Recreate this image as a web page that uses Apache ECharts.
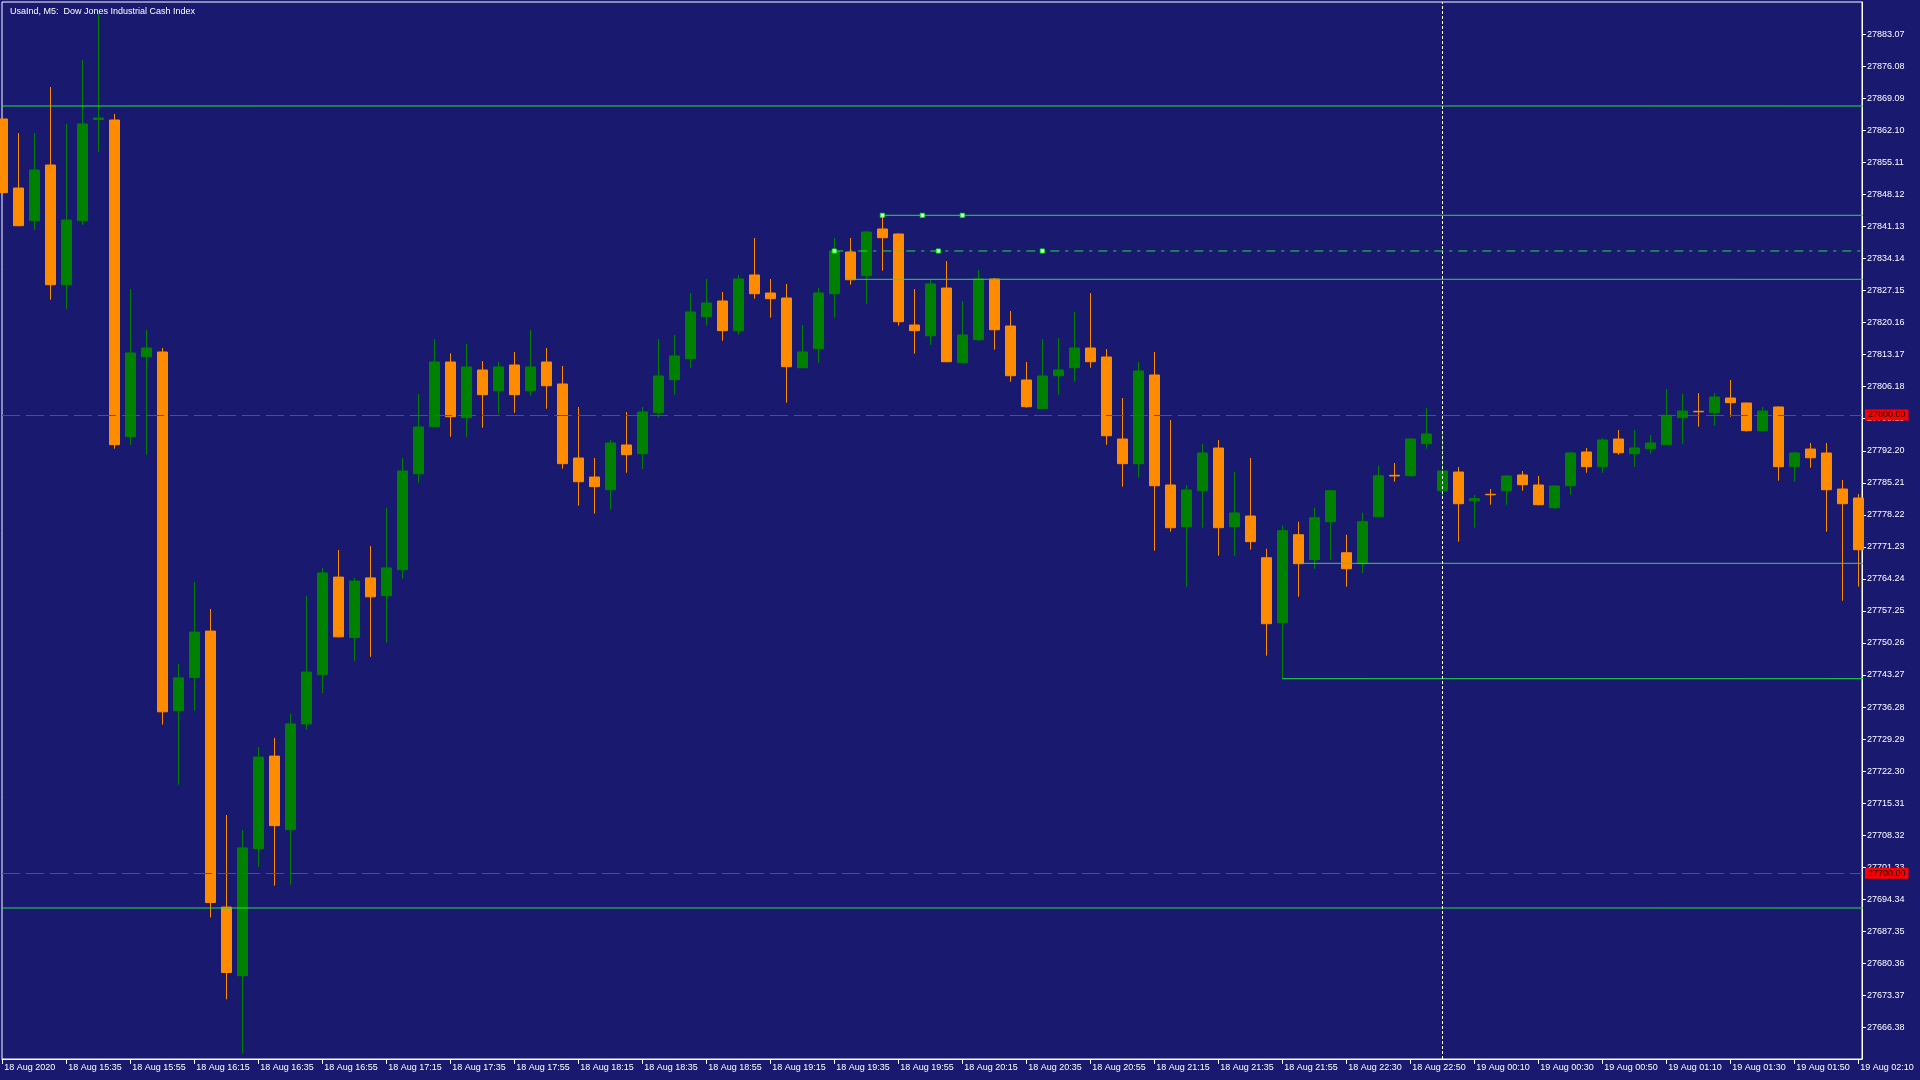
<!DOCTYPE html>
<html><head><meta charset="utf-8">
<script src="https://cdn.jsdelivr.net/npm/echarts@6/dist/echarts.min.js"></script>
<style>html,body{margin:0;padding:0;background:#191970;overflow:hidden}#chart{width:1920px;height:1080px}</style>
</head><body><div id="chart"></div>
<script>
// ---- data ----
const chartTitle = 'UsaInd, M5:  Dow Jones Industrial Cash Index';
const opens = [27864.59,27849.53,27842.40,27854.55,27828.43,27842.40,27864.50,27864.37,27795.27,27812.72,
27813.75,27735.48,27742.73,27752.85,27692.63,27677.66,27705.39,27725.57,27709.54,27732.60,
27743.36,27764.63,27751.45,27764.46,27760.57,27766.25,27787.19,27797.45,27811.57,27799.41,
27809.82,27805.30,27810.91,27805.30,27811.57,27806.77,27790.62,27786.47,27783.70,27793.46,
27791.56,27800.50,27807.70,27812.29,27821.45,27824.88,27818.40,27830.55,27826.62,27825.53,
27810.32,27814.47,27826.47,27835.57,27830.40,27840.59,27839.50,27819.64,27817.30,27827.71,
27811.41,27816.43,27829.68,27819.42,27807.64,27801.38,27808.58,27810.32,27814.62,27812.66,
27794.76,27789.38,27808.73,27784.73,27775.63,27783.48,27792.80,27775.63,27777.96,27768.86,
27754.68,27773.88,27768.43,27776.72,27769.95,27767.56,27777.81,27786.84,27786.76,27793.74,
27783.48,27787.56,27781.30,27782.70,27783.48,27786.91,27784.73,27779.77,27784.57,27791.93,
27788.72,27794.76,27791.56,27792.65,27793.52,27799.41,27800.81,27800.50,27803.71,27802.62,
27796.58,27801.75,27788.72,27792.58,27791.71,27783.85,27781.89];
const closes = [27848.51,27841.31,27853.46,27828.43,27842.55,27863.50,27864.80,27793.52,27813.53,27814.62,
27735.24,27742.64,27752.63,27693.63,27678.36,27705.54,27725.35,27710.39,27732.60,27743.90,
27765.55,27751.60,27763.76,27760.33,27766.64,27787.78,27797.38,27811.57,27799.63,27810.48,
27804.43,27810.48,27804.43,27810.48,27806.39,27789.38,27785.45,27784.36,27793.89,27791.34,
27800.66,27808.51,27812.88,27822.48,27824.44,27818.40,27829.68,27826.47,27825.38,27810.54,
27813.75,27826.62,27835.79,27829.52,27839.93,27838.69,27820.36,27818.40,27828.59,27811.63,
27817.46,27829.68,27818.61,27808.58,27801.81,27808.51,27809.82,27814.62,27811.63,27795.48,
27789.38,27809.60,27784.57,27775.41,27783.64,27791.71,27775.41,27778.62,27772.36,27754.46,
27774.76,27767.56,27777.59,27783.48,27766.46,27776.72,27786.76,27786.70,27794.76,27795.86,
27787.78,27780.65,27781.74,27782.60,27786.69,27784.79,27780.43,27784.51,27791.71,27788.72,
27794.55,27791.77,27792.80,27793.89,27799.94,27800.87,27800.70,27803.93,27802.69,27796.58,
27800.87,27788.72,27791.71,27790.68,27783.70,27780.65,27770.61];
const lows = [27848.30,27841.20,27840.43,27825.16,27823.20,27841.52,27857.45,27792.65,27793.52,27791.34,
27732.45,27719.35,27735.48,27690.36,27672.51,27660.66,27701.42,27697.29,27697.53,27731.36,
27739.36,27751.50,27746.39,27747.24,27750.36,27764.30,27785.23,27797.30,27795.27,27795.27,
27797.23,27800.28,27800.50,27804.21,27801.38,27788.28,27780.21,27778.47,27779.34,27787.41,
27788.28,27799.41,27804.43,27810.32,27819.49,27816.21,27817.52,27825.38,27821.23,27802.69,
27810.20,27811.41,27821.23,27828.43,27824.29,27831.49,27819.49,27813.38,27815.34,27811.50,
27811.30,27816.21,27814.25,27807.27,27801.60,27801.30,27804.43,27807.27,27810.32,27793.52,
27784.36,27786.32,27770.39,27774.54,27762.54,27775.41,27769.30,27769.30,27770.61,27747.48,
27742.46,27760.35,27766.46,27768.43,27762.54,27765.59,27777.60,27785.45,27786.54,27792.65,
27781.74,27772.36,27775.41,27780.43,27780.43,27783.48,27780.30,27779.55,27782.61,27787.41,
27787.41,27791.34,27788.72,27791.56,27793.40,27793.74,27797.45,27797.67,27799.63,27796.40,
27796.40,27785.67,27785.45,27788.50,27774.54,27759.48,27762.54];
const highs = [27864.80,27861.53,27861.53,27871.57,27863.50,27877.46,27887.72,27865.68,27827.49,27818.55,
27814.62,27745.69,27763.54,27757.69,27712.72,27709.45,27727.54,27729.54,27734.78,27760.49,
27766.64,27770.54,27764.46,27771.40,27779.73,27790.62,27804.58,27816.58,27813.46,27815.49,
27811.78,27811.57,27813.75,27818.55,27814.62,27810.69,27801.75,27790.62,27794.55,27800.66,
27801.75,27816.58,27817.46,27826.62,27829.68,27826.84,27830.55,27838.62,27829.68,27828.59,
27819.64,27827.71,27838.62,27838.62,27840.10,27843.58,27839.60,27827.49,27829.68,27833.60,
27824.88,27831.64,27829.90,27822.69,27811.57,27816.58,27816.80,27822.48,27826.62,27814.40,
27803.71,27811.57,27813.75,27798.91,27784.73,27793.67,27794.55,27787.56,27790.62,27770.83,
27775.85,27776.72,27779.77,27783.70,27773.88,27778.68,27788.94,27789.53,27794.90,27801.53,
27795.86,27788.66,27782.55,27783.85,27786.91,27787.78,27786.69,27784.73,27791.90,27792.80,
27794.98,27796.73,27796.73,27795.64,27805.67,27804.58,27804.80,27804.80,27807.64,27802.70,
27801.75,27801.90,27791.90,27793.89,27793.89,27785.82,27782.76];
const xTickBars = [0,4,8,12,16,20,24,28,32,36,40,44,48,52,56,60,64,68,72,76,80,84,88,92,96,100,104,108,112,116];
const xTickLabels = ['18 Aug 2020','18 Aug 15:35','18 Aug 15:55','18 Aug 16:15','18 Aug 16:35','18 Aug 16:55',
'18 Aug 17:15','18 Aug 17:35','18 Aug 17:55','18 Aug 18:15','18 Aug 18:35','18 Aug 18:55','18 Aug 19:15',
'18 Aug 19:35','18 Aug 19:55','18 Aug 20:15','18 Aug 20:35','18 Aug 20:55','18 Aug 21:15','18 Aug 21:35',
'18 Aug 21:55','18 Aug 22:30','18 Aug 22:50','19 Aug 00:10','19 Aug 00:30','19 Aug 00:50','19 Aug 01:10',
'19 Aug 01:30','19 Aug 01:50','19 Aug 02:10'];
const yTickLabels = [27666.38,27673.37,27680.36,27687.35,27694.34,27701.33,27708.32,27715.31,27722.30,27729.29,
27736.28,27743.27,27750.26,27757.25,27764.24,27771.23,27778.22,27785.21,27792.20,27799.19,27806.18,27813.17,
27820.16,27827.15,27834.14,27841.13,27848.12,27855.11,27862.10,27869.09,27876.08,27883.07];
const redLevels = [27800.00, 27700.00];
const greenLevels = [27867.43, 27843.58, 27829.61, 27767.64, 27742.46, 27692.43];
const greenStartBars = [-1, 55, 53, 81, 80, -1];
const dashDotLevel = 27835.79;
const dashDotStartBar = 52;
const anchorBars = [55, 57.5, 60, 52, 58.5, 65];
const anchorPrices = [27843.58, 27843.58, 27843.58, 27835.79, 27835.79, 27835.79];
const separatorBar = 90;

// ---- chart ----
const BG = '#191970', GREEN_LINE = '#22e03c', RED = '#e8131b';
const FONT = 'Liberation Sans';
const chart = echarts.init(document.getElementById('chart'), null, {renderer: 'canvas'});
const candleData = opens.map((o, i) => [i, o, closes[i], lows[i], highs[i]]);
const lineEnd = 118;
const series = [{
  type: 'candlestick', z: 2, clip: true, barWidth: 10,
  data: candleData,
  itemStyle: {color: '#008000', color0: '#FF8C00', borderColor: '#008000', borderColor0: '#FF8C00', borderWidth: 1},
  emphasis: {disabled: true},
  markLine: {
    silent: true, symbol: ['none', 'none'], animation: false,
    lineStyle: {color: RED, width: 1, type: [18, 6]},
    label: {show: true, position: 'end', distance: 3, formatter: p => p.value.toFixed(2),
      backgroundColor: '#ff0000', color: '#000000', fontFamily: FONT, fontSize: 9, lineHeight: 9, padding: [1, 3, 1, 3]},
    data: redLevels.map(v => ({yAxis: v}))
  }
}];
greenLevels.forEach((lv, k) => {
  series.push({type: 'line', z: 3, clip: true, symbol: 'none', silent: true,
    lineStyle: {color: GREEN_LINE, width: 1}, data: [[greenStartBars[k], lv], [lineEnd, lv]]});
});
series.push({type: 'line', z: 3, clip: true, symbol: 'none', silent: true,
  lineStyle: {color: GREEN_LINE, width: 1, type: [9, 6, 3, 6]},
  data: [[dashDotStartBar, dashDotLevel], [lineEnd, dashDotLevel]]});
series.push({type: 'line', z: 3, symbol: 'none', silent: true, data: [],
  markLine: {silent: true, symbol: ['none', 'none'], animation: false, label: {show: false},
    lineStyle: {color: '#ffffff', width: 1, type: [3, 2]}, data: [{xAxis: separatorBar}]}});
series.push({type: 'scatter', z: 4, silent: true, symbol: 'rect', symbolSize: 4,
  itemStyle: {color: '#ffffff', borderColor: '#00ff00', borderWidth: 1, opacity: 1},
  data: anchorBars.map((b, k) => [b, anchorPrices[k]])});

chart.setOption({
  animation: false,
  backgroundColor: BG,
  title: {text: chartTitle, left: 5, top: 2,
    textStyle: {color: '#ffffff', fontFamily: FONT, fontSize: 9, fontWeight: 'normal'}},
  grid: {left: 2, top: 2, right: 58, bottom: 21, show: true, borderColor: '#ffffff', borderWidth: 1,
    backgroundColor: 'transparent', containLabel: false, outerBoundsMode: 'none'},
  xAxis: {
    type: 'value', min: -0.01875, max: 116.23125,
    splitLine: {show: false},
    axisLine: {show: true, onZero: false, lineStyle: {color: '#ffffff', width: 1}},
    axisTick: {show: true, length: 5, customValues: xTickBars, lineStyle: {color: '#ffffff'}},
    axisLabel: {show: true, customValues: xTickBars, align: 'left', margin: 4, padding: [0, 0, 0, 2],
      color: '#ffffff', fontFamily: FONT, fontSize: 9,
      formatter: v => { const k = xTickBars.indexOf(Math.round(v)); return k >= 0 ? xTickLabels[k] : ''; }}
  },
  yAxis: {
    type: 'value', position: 'right', min: 27659.48, max: 27890.12,
    splitLine: {show: false},
    axisLine: {show: true, onZero: false, lineStyle: {color: '#ffffff', width: 1}},
    axisTick: {show: true, length: 4, customValues: yTickLabels, lineStyle: {color: '#ffffff'}},
    axisLabel: {show: true, customValues: yTickLabels, margin: 5, color: '#ffffff', fontFamily: FONT, fontSize: 9,
      formatter: v => v.toFixed(2)}
  },
  series: series
});
</script></body></html>
